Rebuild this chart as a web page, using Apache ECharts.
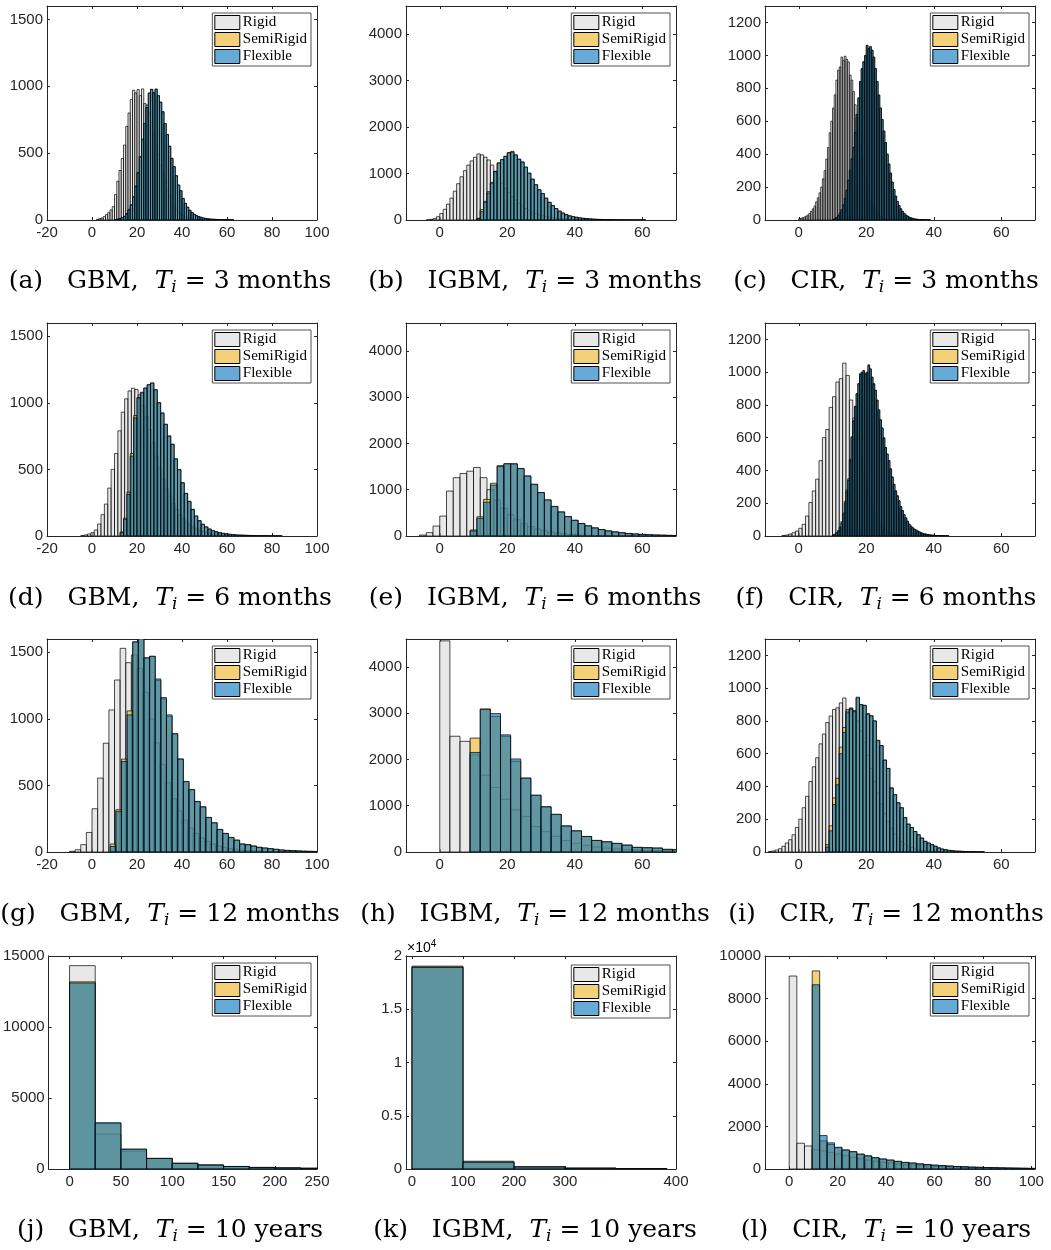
<!DOCTYPE html>
<html><head><meta charset="utf-8">
<script src="https://cdn.jsdelivr.net/npm/echarts@6/dist/echarts.min.js"></script>
<style>html,body{margin:0;padding:0;background:#fff}#chart{width:1051px;height:1250px}</style>
</head><body><div id="chart"></div>
<script>
// ---------------- DATA (histogram counts) ----------------
const seriesNames = ['Rigid', 'SemiRigid', 'Flexible'];

// (a) GBM, 3 months
const gbm3Bin = 1;
const gbm3RigidStart = 2;
const gbm3Rigid = [5,10,15,25,40,55,75,100,190,290,370,460,560,700,800,900,970,950,975,930,980,870,860,800,730,650,570,490,410,340,280,225,180,140,105,80,60,45,33,24,17,12,8,6,4,3,2];
const gbm3SemiStart = 10;
const gbm3Semi = [3,6,11,20,28,48,80,115,175,255,355,475,605,722,842,948,978,952,975,928,882,808,722,638,552,462,398,332,262,218,162,124,96,72,55,42,32,25,20,15,12,9,7,6,5,4,3,3,2,2,2,1,1];
const gbm3FlexStart = 10;
const gbm3Flex = [3,5,10,18,25,45,75,110,170,250,350,470,600,720,840,950,975,950,980,930,880,810,720,640,550,460,400,330,260,220,160,125,95,72,55,42,32,25,20,15,12,9,7,6,5,4,3,3,2,2,2,1,1];

// (b) IGBM, 3 months
const igbm3Bin = 1;
const igbm3RigidStart = -4;
const igbm3Rigid = [5,12,30,70,140,230,340,470,620,780,930,1060,1180,1270,1350,1420,1400,1350,1290,1180,1040,900,790,680,590,500,430,360,300,250,205,170,140,115,95,78,64,52,42,35,28,23,18,15,12,10,8,6,5,4,3,3,2,2,1];
const igbm3SemiStart = 11;
const igbm3Semi = [35,225,400,610,810,1050,1230,1295,1365,1450,1475,1395,1300,1240,1130,1000,875,755,645,565,468,378,308,244,190,150,115,90,72,58,46,37,30,24,19,15,12,10,8,6,5,4,3,3,2,2,1,1,1,1];
const igbm3FlexStart = 11;
const igbm3Flex = [30,180,380,580,790,1040,1220,1300,1370,1440,1460,1400,1310,1250,1140,1010,880,760,650,570,470,380,310,245,190,150,115,90,72,58,46,37,30,24,19,15,12,10,8,6,5,4,3,3,2,2,1,1,1,1];

// (c) CIR, 3 months
const cir3Bin = 0.5;
const cir3RigidStart = 0;
const cir3Rigid = [8,10,14,18,24,30,40,52,68,85,110,135,165,200,250,300,370,440,530,600,680,760,850,910,930,990,970,995,975,960,880,850,780,700,620,540,460,390,320,260,210,165,128,98,75,56,42,31,23,17,12,9,6,4,3,2,1];
const cir3SemiStart = 10;
const cir3Semi = [3,8,16,26,42,62,92,132,182,242,302,372,442,532,642,742,842,918,962,998,1062,1040,1050,1032,988,918,842,758,680,610,540,470,400,340,285,230,185,145,112,88,68,52,40,30,23,17,13,10,7,5,4,3,2,2,1,1,1,1];
const cir3FlexStart = 10;
const cir3Flex = [3,8,15,25,40,60,90,130,180,240,300,370,440,530,640,740,840,920,960,1000,1060,1040,1055,1030,990,920,840,760,680,610,540,470,400,340,285,230,185,145,112,88,68,52,40,30,23,17,13,10,7,5,4,3,2,2,1,1,1,1];

// (d) GBM, 6 months
const gbm6Bin = 1.5;
const gbm6RigidStart = -5;
const gbm6Rigid = [3,8,15,25,45,90,160,240,360,500,620,790,930,1030,1090,1110,1100,1060,980,900,800,700,600,510,430,360,300,245,200,160,130,105,85,68,54,43,34,27,21,17,13,10,8,6,5,4,3,2,2,1,1];
const gbm6SemiStart = 12.5;
const gbm6Semi = [30,135,330,620,905,1040,1080,1110,1135,1148,1098,1002,922,838,752,688,578,498,400,320,260,200,150,115,88,68,52,40,32,25,20,16,13,10,8,7,6,5,4,3,3,2,2,2,1,1,1,1];
const gbm6FlexStart = 12.5;
const gbm6Flex = [25,125,312,600,887,1037,1075,1112,1137,1150,1100,1000,925,840,750,690,580,500,400,320,260,200,150,115,88,68,52,40,32,25,20,16,13,10,8,7,6,5,4,3,3,2,2,2,1,1,1,1];

// (e) IGBM, 6 months
const igbm6Bin = 2;
const igbm6RigidStart = -6;
const igbm6Rigid = [20,72,215,430,970,1260,1350,1400,1480,1260,1000,780,600,460,350,265,200,150,112,84,63,47,35,26,20,15,11,8,6,5,4,3];
const igbm6SemiStart = 9;
const igbm6Semi = [130,416,790,1140,1520,1560,1555,1450,1290,1110,935,775,635,518,418,338,270,220,175,140,110,88,70,55,44,35,28,22,18,14,11,9,7];
const igbm6FlexStart = 9;
const igbm6Flex = [110,380,730,1100,1500,1560,1560,1460,1300,1120,940,780,640,520,420,340,270,220,175,140,110,88,70,55,44,35,28,22,18,14,11,9,7];

// (f) CIR, 6 months
const cir6RigidBin = 1;
const cir6RigidStart = -5;
const cir6Rigid = [3,6,12,20,30,47,71,122,204,275,347,460,600,650,785,850,940,960,1055,980,830,720,600,480,370,280,200,140,95,62,40,25,16,10,6,4,2,1];
const cir6FlexBin = 0.5;
const cir6SemiStart = 10;
const cir6Semi = [7,11,20,33,56,88,140,212,282,350,470,606,704,792,868,928,988,998,1006,988,998,1040,1018,968,928,888,828,768,708,658,598,540,500,460,410,360,315,275,245,215,180,155,130,110,90,72,60,50,42,36,30,25,20,16,13,11,9,7,6,5,4,3,3,2,2,2,1,1,1];
const cir6FlexStart = 10;
const cir6Flex = [6,10,18,30,50,80,130,200,270,340,460,600,700,790,870,930,990,1000,1010,990,1000,1045,1020,970,930,890,830,770,710,660,600,540,500,460,410,360,315,275,245,215,180,155,130,110,90,72,60,50,42,36,30,25,20,16,13,11,9,7,6,5,4,3,3,2,2,2,1,1,1];

// (g) GBM, 12 months
const gbm12Bin = 2.5;
const gbm12RigidStart = -10;
const gbm12Rigid = [5,17,55,147,325,555,817,1067,1292,1530,1422,1480,1380,1200,1000,820,660,520,400,310,240,180,140,105,80,60,45,35,26,20,15,11,8,6,5,4,3,2,2,1,1];
const gbm12SemiStart = 8.1;
const gbm12Semi = [60,318,698,1060,1575,1615,1455,1470,1290,1150,1020,885,695,528,468,378,338,258,218,168,138,108,88,60,55,45,35,30,25,20,15,12,10,8,6,5,4,3];
const gbm12FlexStart = 8.1;
const gbm12Flex = [42,305,680,1030,1580,1620,1460,1470,1300,1160,1030,890,700,530,470,380,340,260,220,170,140,110,90,60,55,45,35,30,25,20,15,12,10,8,6,5,4,3];

// (h) IGBM, 12 months
const igbm12Bin = 3;
const igbm12RigidStart = 0;
const igbm12Rigid = [4560,2500,2390,2100,1660,1395,1140,910,770,550,440,340,250,190,145,110,85,65,50,43,36,29,22];
const igbm12SemiStart = 9;
const igbm12Semi = [2460,3090,2930,2500,1960,1590,1220,970,810,560,455,335,250,220,185,148,100,92,85,57,50];
const igbm12FlexStart = 9;
const igbm12Flex = [2150,3080,2990,2530,2010,1600,1230,980,815,565,458,336,250,222,186,150,100,93,86,57,50];

// (i) CIR, 12 months
const cir12Bin = 1;
const cir12RigidStart = -9;
const cir12Rigid = [3,6,12,20,35,55,75,105,150,200,270,340,430,520,575,660,720,790,830,870,880,910,940,870,880,850,800,740,670,590,510,430,360,295,235,185,145,110,85,64,48,36,27,20,15,11,8,6,4,3,2,1];
const cir12SemiStart = 8;
const cir12Semi = [45,160,330,450,640,760,860,875,862,940,898,895,845,832,800,682,650,562,510,392,350,300,270,210,170,150,125,105,85,65,55,45,35,25,18,14,10,8,6,5,4,3,2,2,1,1,1];
const cir12FlexStart = 8;
const cir12Flex = [30,130,290,410,600,730,850,870,860,945,900,895,840,830,800,680,650,560,510,390,350,300,270,210,170,150,125,105,85,65,55,45,35,25,18,14,10,8,6,5,4,3,2,2,1,1,1];

// (j) GBM, 10 years
const gbm10yBin = 25;
const gbm10yRigidStart = 0;
const gbm10yRigid = [14320,2460,1260,740,400,280,170,110,70,50];
const gbm10ySemiStart = 0;
const gbm10ySemi = [13180,3230,1390,745,398,278,178,110,78,50];
const gbm10yFlexStart = 0;
const gbm10yFlex = [13100,3250,1400,750,400,280,180,110,80,50];

// (k) IGBM, 10 years
const igbm10yBin = 100;
const igbm10yRigidStart = 0;
const igbm10yRigid = [19050,730,220,95,30];
const igbm10ySemiStart = 0;
const igbm10ySemi = [18980,650,200,70,30];
const igbm10yFlexStart = 0;
const igbm10yFlex = [18920,636,190,64,30];

// (l) CIR, 10 years
const cir10yRigidBin = 3.15;
const cir10yRigidStart = 0;
const cir10yRigid = [9060,1210,1080,900,850,780,700,620,550,480,420,370,320,280,240,210,180,160,140,120,105,90,80,70,60,52,45,40,35,30,26];
const cir10yFlexBin = 3.07;
const cir10ySemiStart = 9.5;
const cir10ySemi = [9300,1320,1150,1000,880,800,690,610,525,465,415,358,308,278,238,208,178,158,138,118,104,89,79,69,59,51,44,39,34,29];
const cir10yFlexStart = 9.5;
const cir10yFlex = [8650,1570,1230,1020,900,820,700,620,530,470,420,360,310,280,240,210,180,160,140,120,105,90,80,70,60,52,45,40,35,30];

// Axis ticks / limits (tick labels as printed in the figure)
const xTicksGBM = [-20,0,20,40,60,80,100];
const xTicksIGBM = [0,20,40,60];
const xTicksCIR = [0,20,40,60];
const xTicksGBM10y = [0,50,100,150,200];
const xEndLabelGBM10y = '250';     // label printed at the right end of axis (j)
const xTicksIGBM10y = [0,100,200,300];
const xEndLabelIGBM10y = '400';    // label printed at the right end of axis (k)
const xTicksCIR10y = [0,20,40,60,80,100];
const yTicksGBM = [0,500,1000,1500];
const yTicksIGBM = [0,1000,2000,3000,4000];
const yTicksCIR = [0,200,400,600,800,1000,1200];
const yTicksGBM10y = [0,5000,10000,15000];
const yTicksIGBM10y = [0,5000,10000,15000,20000];
const yTicksCIR10y = [0,2000,4000,6000,8000,10000];

const captions = [
  ['(a)','GBM','3','months'],['(b)','IGBM','3','months'],['(c)','CIR','3','months'],
  ['(d)','GBM','6','months'],['(e)','IGBM','6','months'],['(f)','CIR','6','months'],
  ['(g)','GBM','12','months'],['(h)','IGBM','12','months'],['(i)','CIR','12','months'],
  ['(j)','GBM','10','years'],['(k)','IGBM','10','years'],['(l)','CIR','10','years']
];

// ---------------- BUILD ----------------
function hist(start, bin, counts) {
  return counts.map((c, i) => [start + i * bin, start + (i + 1) * bin, c]);
}

const panels = [
  {x:[-20,100], xt:xTicksGBM, y:[0,1600], yt:yTicksGBM, s:[hist(gbm3RigidStart,gbm3Bin,gbm3Rigid),hist(gbm3SemiStart,gbm3Bin,gbm3Semi),hist(gbm3FlexStart,gbm3Bin,gbm3Flex)]},
  {x:[-10,70], xt:xTicksIGBM, y:[0,4600], yt:yTicksIGBM, s:[hist(igbm3RigidStart,igbm3Bin,igbm3Rigid),hist(igbm3SemiStart,igbm3Bin,igbm3Semi),hist(igbm3FlexStart,igbm3Bin,igbm3Flex)]},
  {x:[-10,70], xt:xTicksCIR, y:[0,1300], yt:yTicksCIR, s:[hist(cir3RigidStart,cir3Bin,cir3Rigid),hist(cir3SemiStart,cir3Bin,cir3Semi),hist(cir3FlexStart,cir3Bin,cir3Flex)]},
  {x:[-20,100], xt:xTicksGBM, y:[0,1600], yt:yTicksGBM, s:[hist(gbm6RigidStart,gbm6Bin,gbm6Rigid),hist(gbm6SemiStart,gbm6Bin,gbm6Semi),hist(gbm6FlexStart,gbm6Bin,gbm6Flex)]},
  {x:[-10,70], xt:xTicksIGBM, y:[0,4600], yt:yTicksIGBM, s:[hist(igbm6RigidStart,igbm6Bin,igbm6Rigid),hist(igbm6SemiStart,igbm6Bin,igbm6Semi),hist(igbm6FlexStart,igbm6Bin,igbm6Flex)]},
  {x:[-10,70], xt:xTicksCIR, y:[0,1300], yt:yTicksCIR, s:[hist(cir6RigidStart,cir6RigidBin,cir6Rigid),hist(cir6SemiStart,cir6FlexBin,cir6Semi),hist(cir6FlexStart,cir6FlexBin,cir6Flex)]},
  {x:[-20,100], xt:xTicksGBM, y:[0,1600], yt:yTicksGBM, s:[hist(gbm12RigidStart,gbm12Bin,gbm12Rigid),hist(gbm12SemiStart,gbm12Bin,gbm12Semi),hist(gbm12FlexStart,gbm12Bin,gbm12Flex)]},
  {x:[-10,70], xt:xTicksIGBM, y:[0,4600], yt:yTicksIGBM, s:[hist(igbm12RigidStart,igbm12Bin,igbm12Rigid),hist(igbm12SemiStart,igbm12Bin,igbm12Semi),hist(igbm12FlexStart,igbm12Bin,igbm12Flex)]},
  {x:[-10,70], xt:xTicksCIR, y:[0,1300], yt:yTicksCIR, s:[hist(cir12RigidStart,cir12Bin,cir12Rigid),hist(cir12SemiStart,cir12Bin,cir12Semi),hist(cir12FlexStart,cir12Bin,cir12Flex)]},
  {x:[-20.3,241], xt:xTicksGBM10y, xEnd:xEndLabelGBM10y, y:[0,15000], yt:yTicksGBM10y, s:[hist(gbm10yRigidStart,gbm10yBin,gbm10yRigid),hist(gbm10ySemiStart,gbm10yBin,gbm10ySemi),hist(gbm10yFlexStart,gbm10yBin,gbm10yFlex)]},
  {x:[-11.8,518], xt:xTicksIGBM10y, xEnd:xEndLabelIGBM10y, y:[0,20000], yt:yTicksIGBM10y, yfmt:v=>String(v/10000), s:[hist(igbm10yRigidStart,igbm10yBin,igbm10yRigid),hist(igbm10ySemiStart,igbm10yBin,igbm10ySemi),hist(igbm10yFlexStart,igbm10yBin,igbm10yFlex)]},
  {x:[-10,101.5], xt:xTicksCIR10y, y:[0,10000], yt:yTicksCIR10y, s:[hist(cir10yRigidStart,cir10yRigidBin,cir10yRigid),hist(cir10ySemiStart,cir10yFlexBin,cir10ySemi),hist(cir10yFlexStart,cir10yFlexBin,cir10yFlex)]}
];

const W = 1051;
const colLeft = [47, 406, 765];
const rowTop = [6, 323, 639, 956];
const plotW = 270, plotH = 213;
const capX = [170, 535, 886];
const capY = [281, 598, 914, 1230];
const fills = ['rgba(217,217,217,0.6)', 'rgba(237,177,32,0.6)', 'rgba(0,114,189,0.6)'];
const AX = '#262626';
const SANS = '"Liberation Sans", Arial, Helvetica, sans-serif';
const SERIF = '"Liberation Serif", "DejaVu Serif", serif';
const CAPSERIF = '"DejaVu Serif", "Liberation Serif", serif';

const grid = [], xAxis = [], yAxis = [], series = [], legend = [], graphic = [];

function render(fill) {
  return function (params, api) {
    const x0 = api.value(0), x1 = api.value(1), v = api.value(2);
    const p0 = api.coord([x0, v]);
    const p1 = api.coord([x1, 0]);
    return {type: 'rect', shape: {x: p0[0], y: p0[1], width: p1[0] - p0[0], height: p1[1] - p0[1]},
      style: {fill: fill, stroke: '#000', lineWidth: 0.7}};
  };
}

const capRich = {
  n: {fontFamily: CAPSERIF, fontSize: 25, color: '#000', lineHeight: 30},
  it: {fontFamily: CAPSERIF, fontSize: 25, fontStyle: 'italic', color: '#000', lineHeight: 30},
  sub: {fontFamily: CAPSERIF, fontSize: 17, fontStyle: 'italic', color: '#000', lineHeight: 30, verticalAlign: 'bottom'}
};

panels.forEach((p, i) => {
  const r = Math.floor(i / 3), c = i % 3;
  const left = colLeft[c], top = rowTop[r];
  grid.push({left: left, top: top, width: plotW, height: plotH + (r === 0 ? 1 : 0)});
  const base = {type: 'value', gridIndex: i, splitLine: {show: false}};
  const line = {show: true, onZero: false, lineStyle: {color: AX, width: 1}};
  const xt = p.xEnd ? p.xt.concat([p.x[1]]) : p.xt;
  const xfmt = v => (p.xEnd && v === p.x[1]) ? p.xEnd : String(v);
  xAxis.push(Object.assign({}, base, {min: p.x[0], max: p.x[1], position: 'bottom', axisLine: line,
    axisTick: {show: true, inside: true, length: 3, customValues: xt, lineStyle: {color: AX}},
    axisLabel: {customValues: xt, fontSize: 15, color: AX, fontFamily: SANS, margin: 5, formatter: xfmt}}));
  xAxis.push(Object.assign({}, base, {min: p.x[0], max: p.x[1], position: 'top', axisLine: line,
    axisTick: {show: true, inside: true, length: 3, customValues: xt, lineStyle: {color: AX}},
    axisLabel: {show: false}}));
  yAxis.push(Object.assign({}, base, {min: p.y[0], max: p.y[1], position: 'left', axisLine: line,
    axisTick: {show: true, inside: true, length: 3, customValues: p.yt, lineStyle: {color: AX}},
    axisLabel: {customValues: p.yt, fontSize: 15, color: AX, fontFamily: SANS, margin: 4, formatter: p.yfmt || (v => String(v))}}));
  yAxis.push(Object.assign({}, base, {min: p.y[0], max: p.y[1], position: 'right', axisLine: line,
    axisTick: {show: true, inside: true, length: 3, customValues: p.yt, lineStyle: {color: AX}},
    axisLabel: {show: false}}));
  p.s.forEach((d, k) => {
    series.push({type: 'custom', name: seriesNames[k], xAxisIndex: 2 * i, yAxisIndex: 2 * i,
      renderItem: render(fills[k]), encode: {x: [0, 1], y: 2}, data: d, clip: true, silent: true,
      itemStyle: {color: fills[k], borderColor: '#000', borderWidth: 1}});
  });
  legend.push({orient: 'vertical', right: W - (left + plotW) + 6, top: top + (i === 10 ? 9 : 7),
    data: seriesNames, icon: 'rect', itemWidth: 25, itemHeight: 14, itemGap: 2,
    padding: [2, 4, 2, 2], backgroundColor: '#fff', borderColor: AX, borderWidth: 0.8,
    selectedMode: false, itemStyle: {borderColor: '#000', borderWidth: 1},
    textStyle: {fontFamily: SERIF, fontSize: 15, color: '#000', padding: [0, 0, 0, -2]}});
  const cap = captions[i];
  graphic.push({type: 'text', x: capX[c], y: capY[r], style: {
    text: '{n|' + cap[0] + '   ' + cap[1] + ',  }{it|T}{sub|i}{n| = ' + cap[2] + ' ' + cap[3] + '}',
    align: 'center', verticalAlign: 'middle', rich: capRich}});
});

// ×10^4 multiplier for panel (k)
graphic.push({type: 'text', x: colLeft[1] + 1, y: rowTop[3] - 1, style: {
  text: '{a|×10}{s|4}', align: 'left', verticalAlign: 'bottom',
  rich: {a: {fontFamily: SANS, fontSize: 14, color: AX, lineHeight: 16, verticalAlign: 'bottom'},
         s: {fontFamily: SANS, fontSize: 10, color: AX, lineHeight: 16, verticalAlign: 'top'}}}});

const chart = echarts.init(document.getElementById('chart'), null, {renderer: 'canvas'});
chart.setOption({animation: false, backgroundColor: '#fff', grid, xAxis, yAxis, series, legend, graphic});
</script></body></html>
